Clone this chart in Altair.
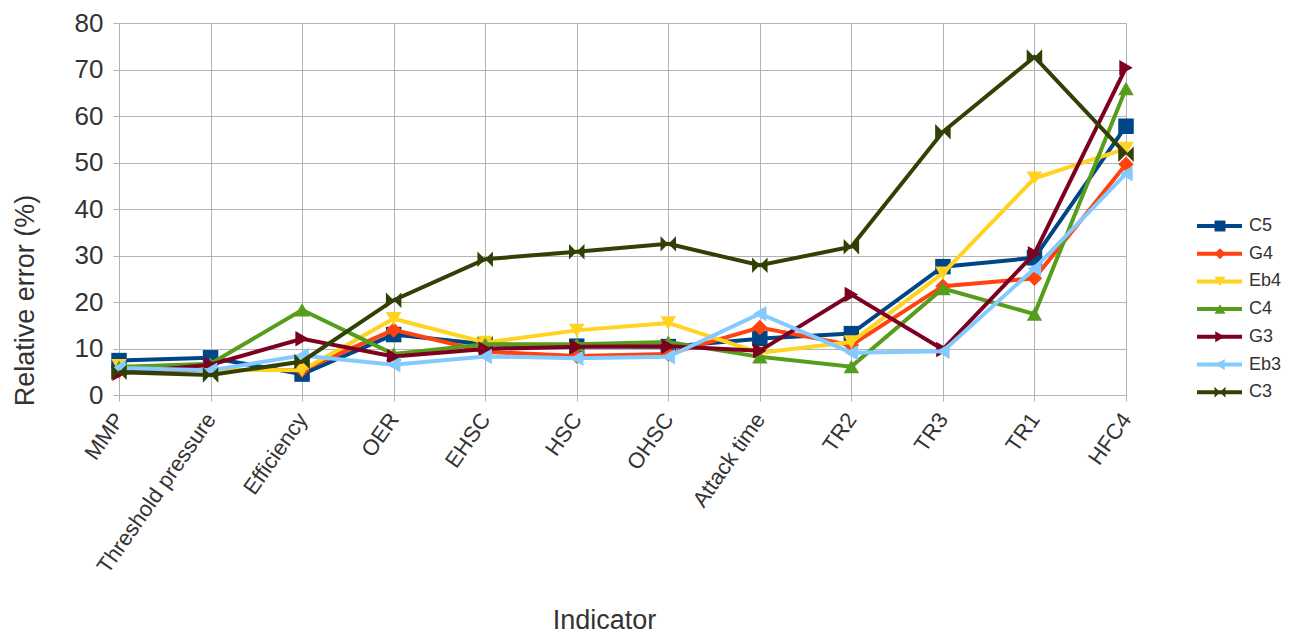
import altair as alt
import pandas as pd

indicators = ["MMP", "Threshold pressure", "Efficiency", "OER", "EHSC", "HSC",
              "OHSC", "Attack time", "TR2", "TR3", "TR1", "HFC4"]
series = ["C5", "G4", "Eb4", "C4", "G3", "Eb3", "C3"]
colors = ["#004586", "#ff420e", "#ffd320", "#579d1c", "#7e0021", "#83caff", "#314004"]
shapes = ["square", "diamond", "triangle-down", "triangle-up", "triangle-right",
          "triangle-left", "M-1,-1L1,1L1,-1L-1,1Z"]

c5 = [7.4, 8.0, 4.5, 13.0, 10.9, 10.5, 10.4, 12.1, 13.2, 27.6, 29.5, 57.8]
g4 = [5.2, 5.4, 5.4, 14.0, 9.3, 8.4, 8.8, 14.5, 10.7, 23.4, 25.1, 49.6]
eb4 = [6.3, 5.4, 5.3, 16.4, 11.3, 13.9, 15.5, 9.1, 11.4, 26.2, 46.6, 53.0]
c4 = [6.0, 6.7, 18.3, 8.8, 10.9, 10.9, 11.4, 8.2, 6.1, 22.9, 17.4, 65.9]
g3 = [4.7, 6.5, 12.1, 8.3, 9.9, 10.4, 10.5, 9.5, 21.6, 9.8, 30.4, 70.4]
eb3 = [5.8, 5.3, 8.5, 6.5, 8.3, 7.9, 8.2, 17.5, 9.1, 9.4, 27.2, 47.6]
c3 = [4.9, 4.3, 7.2, 20.4, 29.2, 30.8, 32.5, 27.9, 31.9, 56.6, 72.7, 51.8]

values = [c5, g4, eb4, c4, g3, eb3, c3]
marker_keys = [s + " " for s in series]

rows = []
for s, mk, vals in zip(series, marker_keys, values):
    for ind, v in zip(indicators, vals):
        rows.append({"indicator": ind, "series": s, "series_m": mk, "value": v})
df = pd.DataFrame(rows)

FONT = "Liberation Sans"
TXT = "#333333"
GRID = "#b3b3b3"

x = alt.X("indicator:N", sort=indicators,
          scale=alt.Scale(type="point", padding=0),
          axis=alt.Axis(title="Indicator", labelAngle=-55, labelFontSize=22,
                        labelColor=TXT, labelPadding=14, labelLimit=0,
                        titleFontSize=27, titleColor=TXT, titleFontWeight="normal",
                        titleX=485, titleY=233, titleBaseline="alphabetic",
                        titleAlign="center", grid=True, gridColor=GRID,
                        domainColor=GRID, tickColor=GRID, tickSize=6,
                        labelFont=FONT, titleFont=FONT))
y = alt.Y("value:Q", scale=alt.Scale(domain=[0, 80], nice=False, zero=True),
          axis=alt.Axis(title="Relative error (%)", values=list(range(0, 81, 10)),
                        labelFontSize=26, labelColor=TXT, labelPadding=10,
                        titleFontSize=27, titleColor=TXT, titleFontWeight="normal",
                        titleX=-94, titleY=277, titleAngle=-90,
                        titleAlign="center", titleBaseline="middle",
                        grid=True, gridColor=GRID,
                        domainColor=GRID, tickColor=GRID, tickSize=6,
                        labelFont=FONT, titleFont=FONT))

line_stroke = alt.Stroke("series:N", sort=series,
                         scale=alt.Scale(domain=series, range=colors),
                         legend=alt.Legend(title=None, orient="none", legendX=1076,
                                           legendY=194, symbolType="stroke",
                                           symbolSize=2025, symbolStrokeWidth=4,
                                           labelFontSize=18, labelColor=TXT,
                                           labelFontWeight="normal",
                                           labelFont=FONT, clipHeight=18,
                                           rowPadding=9.7, labelOffset=5))
pt_fill = alt.Fill("series_m:N", sort=marker_keys,
                   scale=alt.Scale(domain=marker_keys, range=colors),
                   legend=alt.Legend(title=None, orient="none", legendX=1092,
                                     legendY=194, symbolSize=120,
                                     symbolStrokeWidth=0, labelFontSize=18,
                                     labelExpr="''", labelFont=FONT,
                                     clipHeight=18, rowPadding=9.7))
pt_shape = alt.Shape("series_m:N", sort=marker_keys,
                     scale=alt.Scale(domain=marker_keys, range=shapes))

layers = []
for s in series:
    base = alt.Chart(df).transform_filter(alt.datum.series == s)
    layers.append(base.mark_line(strokeWidth=4).encode(x=x, y=y, stroke=line_stroke))
    layers.append(base.mark_point(filled=True, size=240, opacity=1, strokeWidth=0).encode(
        x=x, y=y, fill=pt_fill, shape=pt_shape))

chart = alt.layer(*layers).properties(
    width=1007, height=372,
    autosize=alt.AutoSizeParams(type="none"),
    padding={"left": 111, "top": 15, "right": 155, "bottom": 241},
).configure_view(stroke=GRID).configure(font=FONT)

chart.save("out.html", embed_options={"renderer": "svg", "actions": False})
